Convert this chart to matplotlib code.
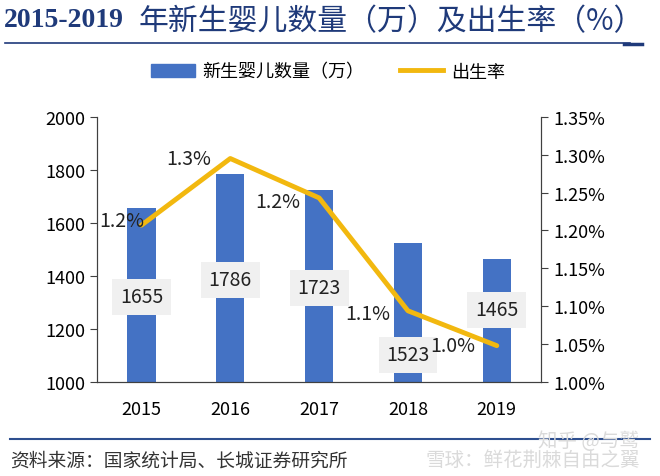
import numpy as np
import matplotlib.pyplot as plt
from matplotlib.lines import Line2D
from matplotlib.patches import Patch

plt.rcParams['font.family'] = ['Noto Sans CJK SC', 'DejaVu Sans']

# data
years = ['2015', '2016', '2017', '2018', '2019']
births = [1655, 1786, 1723, 1523, 1465]          # 万
birth_rate = [1.207, 1.295, 1.243, 1.094, 1.048]  # %
rate_labels = ['1.2%', '1.3%', '1.2%', '1.1%', '1.0%']

# label positions (layout)
num_label_y = [1321, 1385, 1355, 1102, 1272]
rate_off = [(-0.22, 0.006), (-0.47, 0.0), (-0.47, -0.005), (-0.45, -0.003), (-0.5, 0.0)]

bar_c = '#4472C4'
line_c = '#F2B80F'
navy = '#1F3A7A'

fig = plt.figure(figsize=(6.6, 4.77), dpi=100)
ax = fig.add_axes([0.147, 0.197, 0.673, 0.556])
x = np.arange(len(years))
ax.bar(x, births, width=0.32, color=bar_c, zorder=2)
ax.set_ylim(1000, 2000)
ax.set_yticks(np.arange(1000, 2001, 200))
ax.set_xlim(-0.5, 4.5)
ax.set_xticks(x)
ax.set_xticklabels(years)
ax.spines['top'].set_visible(False)
for s in ['left', 'right', 'bottom']:
    ax.spines[s].set_color('#404040')
ax.tick_params(axis='x', length=0, labelsize=13, pad=13)
ax.tick_params(axis='y', labelsize=13, color='#404040', length=5)

for i, v in enumerate(births):
    ax.text(i, num_label_y[i], str(v), ha='center', va='center', fontsize=14,
            color='#222222', zorder=5,
            bbox=dict(boxstyle='square,pad=0.4', fc='#F0F0F0', ec='none'))

ax2 = ax.twinx()
ax2.plot(x, birth_rate, color=line_c, lw=3.5, zorder=3, solid_capstyle='round')
ax2.set_ylim(1.0, 1.35)
ax2.set_yticks(np.arange(1.0, 1.351, 0.05))
ax2.set_yticklabels(['%.2f%%' % t for t in np.arange(1.0, 1.351, 0.05)])
ax2.spines['top'].set_visible(False)
for s in ['left', 'right', 'bottom']:
    ax2.spines[s].set_color('#404040')
ax2.tick_params(axis='y', labelsize=13, color='#404040', length=5)
for i, (v, lab) in enumerate(zip(birth_rate, rate_labels)):
    dx, dy = rate_off[i]
    ax2.text(i + dx, v + dy, lab, ha='center', va='center', fontsize=14, color='#222222')

# legend
handles = [Patch(color=bar_c, label='新生婴儿数量（万）'),
           Line2D([0], [0], color=line_c, lw=3.5, label='出生率')]
fig.legend(handles=handles, loc='center', bbox_to_anchor=(0.497, 0.848), ncol=2,
           frameon=False, fontsize=13, handlelength=2.4, handletextpad=0.4,
           columnspacing=2.0)

# title and rules
fig.text(0.006, 0.957, '2015-2019', fontsize=20, fontweight='bold', color=navy,
         family='Liberation Serif', va='center')
fig.text(0.21, 0.955, '年新生婴儿数量（万）及出生率（%）', fontsize=21.5, color=navy,
         va='center')
fig.add_artist(Line2D([0.008, 0.955], [0.908, 0.908], color=navy, lw=1.2))
fig.add_artist(Line2D([0.945, 0.972], [0.906, 0.906], color=navy, lw=2.5))
fig.add_artist(Line2D([0.015, 0.985], [0.077, 0.077], color='#2E4F8F', lw=1.5))
fig.text(0.015, 0.033, '资料来源：国家统计局、长城证券研究所', fontsize=13.5,
         color='#333333', va='center')
fig.text(0.645, 0.035, '雪球：鲜花荆棘自由之翼', fontsize=14, color='#DADADA', va='center')
fig.text(0.815, 0.075, '知乎 @与鹫', fontsize=14, color='#DADADA', va='center')

fig.savefig('out.png', dpi=100)
